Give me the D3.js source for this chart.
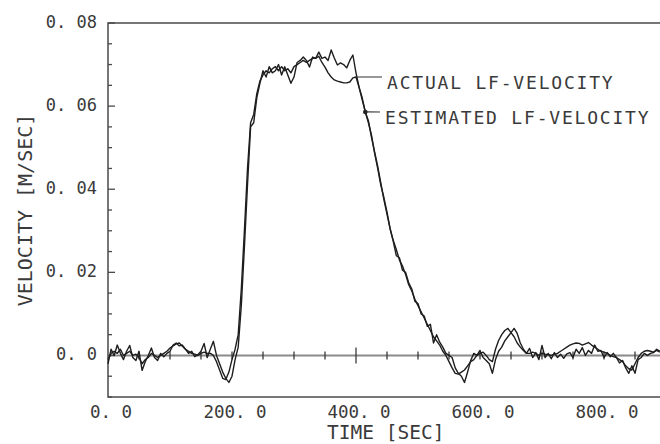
<!DOCTYPE html>
<html>
<head>
<meta charset="utf-8">
<script src="https://cdn.jsdelivr.net/npm/d3@7"></script>
<style>
    body { margin: 0; background: #fff; }
    text { font-family: "DejaVu Sans Mono", monospace; fill: #3a3a3a; }
    .curve { fill: none; stroke: #1e1e1e; stroke-width: 1.4; stroke-linejoin: round; }
</style>
</head>
<body>
<script>

// sample period of the recorded signals [sec]
var sampleStep = 5;

// LF velocity, mm/s, one value every 5 sec from t = 0
var actual = [
    -1, 0.5, 1, 0.5, 1.5, 0, 0.5, 1, 0, 0.3,
    -0.5, -2, -1, -0.5, 0.5, 0, -0.5, 0, 0.5, 1,
    1.8, 2.3, 2.8, 3, 2.2, 1.5, 1, 0.5, 0.3, 0,
    0.5, 0.8, 0.5, 0.5, 0, -1.5, -3.5, -5.5, -5.8, -4,
    -1, 1.5, 5, 16, 30, 45, 56, 58, 63, 66,
    67.5, 68.5, 68, 69, 69.5, 68.5, 69.5, 68.5, 69, 68,
    69.5, 70, 70.5, 71, 70.5, 71, 71.5, 71.5, 72, 70.5,
    69.4, 68, 67, 66.3, 66, 65.8, 65.6, 65.6, 65.8, 66.8,
    67, 64.5, 62, 58.6, 56.5, 52.5, 49, 45.5, 41.5, 37.5,
    34, 30.5, 27.7, 25.5, 23, 21.5, 19.5, 17, 15.5, 13.5,
    12, 10.5, 9, 7.5, 6, 4.5, 3.5, 2.5, 1, 0,
    -1.5, -3, -4.3, -4.5, -4, -3.5, -2.5, -1.5, -1, 0,
    0.5, 0.8, 0, -1, -1.5, 1.5, 3.6, 5, 6, 6.5,
    5.5, 4.5, 3, 2, 1.2, 0.5, 0.5, 0.8, 0.5, 0,
    0.5, 0.3, 0.2, 0, 0.3, 0.5, 1, 1.5, 2, 2.5,
    2.8, 3, 2.9, 2.5, 2.8, 3.1, 2.5, 2, 1.5, 1,
    0.8, 0.5, 0, -0.3, -0.5, -1, -1.5, -2.5, -3.2, -3.5,
    -2, -0.5, 0.5, 1, 1.2, 1, 0.8, 1.2, 0.8
];

var estimated = [
    -2, 1.5, 0, 2.5, 0.5, -1, 1, 2.4, -0.5, -1.2,
    1, -3.6, -1.5, 0, 1.8, -0.5, -1.2, 0.5, -0.3, 0.5,
    1, 2.5, 3, 2.3, 2.5, 1.5, 0.5, 1, -0.3, 0.2,
    1, 2.9, -0.5, 1.5, 3.4, 0, -2, -4, -5.5, -6.5,
    -5, -1, 2, 12, 26, 41, 55, 56, 62, 65.5,
    68.5, 67, 69.5, 68, 68.5, 70, 67.5, 69.5, 67.5, 65.5,
    67, 70.5, 71, 71.8, 71, 69.4, 71.8, 71.5, 73, 71.5,
    71.8, 71, 73.5, 71.6, 69.9, 70.4, 70, 69.2, 71, 72.3,
    68, 64.5, 61.5, 58.6, 56, 53, 48.7, 45, 41, 38,
    34.5, 30.5, 27.5, 24, 23.5, 20.5, 20, 17.5, 16, 13,
    12.5, 10, 9.5, 7, 7.5, 3, 5, 3.2, 2, 0.5,
    0, -0.5, -3, -4.3, -5, -6.5, -4, -1.2, 0.5, 0,
    1.2, -0.5, -1.2, -2, -4.3, -1, 1, 2, 3.5, 4.5,
    5.5, 6.5, 5.3, 3, 1.5, 0.5, 1.7, -0.5, 0.7, -1,
    2.4, -0.5, 0.5, -0.8, 0.7, -0.5, 0.3, -0.7, 0.4, 0.7,
    -0.5, 1.5, 0.5, 1.9, 0, 1.2, 0.5, 2.5, 1, 1.2,
    -0.5, 0.7, -0.3, 0.5, -0.5, -1.8, -1.2, -3, -4.3, -2.5,
    -4.3, -1, -0.5, 0.5, 0, 0.5, 0.7, 1.5, 1
];

var xTickValues = [0, 200, 400, 600, 800];
var xTickLabels = ["0. 0", "200. 0", "400. 0", "600. 0", "800. 0"];
var yTickValues = [0, 0.02, 0.04, 0.06, 0.08];
var yTickLabels = ["0. 0", "0. 02", "0. 04", "0. 06", "0. 08"];

// legend: label, series it points at, time of the contact point
var legendNames = ["ACTUAL LF-VELOCITY", "ESTIMATED LF-VELOCITY"];
var legendSeries = [actual, estimated];
var legendTimes = [400, 415];

var W = 660, H = 444;
var frame = { left: 108, right: 666, top: 23, bottom: 397 };

var x = d3.scaleLinear().domain([0, 900]).range([frame.left, frame.right]);
var y = d3.scaleLinear().domain([-0.01, 0.08]).range([frame.bottom, frame.top]);

var svg = d3.select("body").append("svg")
    .attr("width", W)
    .attr("height", H);

// frame
svg.append("rect")
    .attr("x", frame.left)
    .attr("y", frame.top)
    .attr("width", frame.right - frame.left)
    .attr("height", frame.bottom - frame.top)
    .attr("fill", "none")
    .attr("stroke", "#4a4a4a")
    .attr("stroke-width", 1.5);

// zero line
svg.append("line")
    .attr("x1", frame.left).attr("x2", frame.right)
    .attr("y1", y(0)).attr("y2", y(0))
    .attr("stroke", "#8a8a8a")
    .attr("stroke-width", 2);

// y ticks, every 0.005 on the inside of the left axis
svg.append("g")
    .selectAll("line")
    .data(d3.range(-2, 17))
    .enter().append("line")
    .attr("x1", frame.left)
    .attr("x2", d => frame.left + (d % 4 == 0 ? 7 : 4))
    .attr("y1", d => y(d * 0.005))
    .attr("y2", d => y(d * 0.005))
    .attr("stroke", "#4a4a4a")
    .attr("stroke-width", 1.3);

// x ticks across the zero line, every 50 sec
svg.append("g")
    .selectAll("line")
    .data(d3.range(1, 18))
    .enter().append("line")
    .attr("x1", d => x(d * 50))
    .attr("x2", d => x(d * 50))
    .attr("y1", d => y(0) - (d == 8 ? 8 : 4))
    .attr("y2", d => y(0) + (d == 8 ? 8 : 4))
    .attr("stroke", "#3a3a3a")
    .attr("stroke-width", 1.3);

// tick labels
svg.append("g")
    .selectAll("text")
    .data(yTickValues)
    .enter().append("text")
    .attr("x", 97)
    .attr("y", d => y(d) + 5)
    .attr("text-anchor", "end")
    .style("font-size", "17px")
    .text((d, i) => yTickLabels[i]);

svg.append("g")
    .selectAll("text")
    .data(xTickValues)
    .enter().append("text")
    .attr("x", d => x(d) + 3)
    .attr("y", 418)
    .attr("text-anchor", "middle")
    .style("font-size", "17.5px")
    .text((d, i) => xTickLabels[i]);

// axis titles
svg.append("text")
    .attr("x", 327)
    .attr("y", 439)
    .style("font-size", "19.5px")
    .text("TIME [SEC]");

svg.append("text")
    .attr("transform", "translate(32,210) rotate(-90)")
    .attr("text-anchor", "middle")
    .style("font-size", "20px")
    .text("VELOCITY [M/SEC]");

// curves
var line = d3.line()
    .x((d, i) => x(i * sampleStep))
    .y(d => y(d / 1000));

svg.append("path").datum(actual).attr("class", "curve").attr("d", line);
svg.append("path").datum(estimated).attr("class", "curve").attr("d", line);

// legend with leader lines
var legendX = [387, 385];
var legendY = [89, 124];

legendNames.forEach(function(name, i) {
    var t = legendTimes[i];
    var v = legendSeries[i][t / sampleStep] / 1000;
    var px = x(t), py = y(v);

    svg.append("line")
        .attr("x1", px).attr("y1", py)
        .attr("x2", legendX[i] - 5).attr("y2", legendY[i] - 12)
        .attr("stroke", "#333")
        .attr("stroke-width", 1.2);

    if (i == 1) {
        svg.append("circle")
            .attr("cx", px).attr("cy", py)
            .attr("r", 2.3)
            .attr("fill", "#222");
    }

    svg.append("text")
        .attr("x", legendX[i])
        .attr("y", legendY[i])
        .style("font-size", "18px")
        .style("letter-spacing", "1.8px")
        .text(name);
});

</script>
</body>
</html>
